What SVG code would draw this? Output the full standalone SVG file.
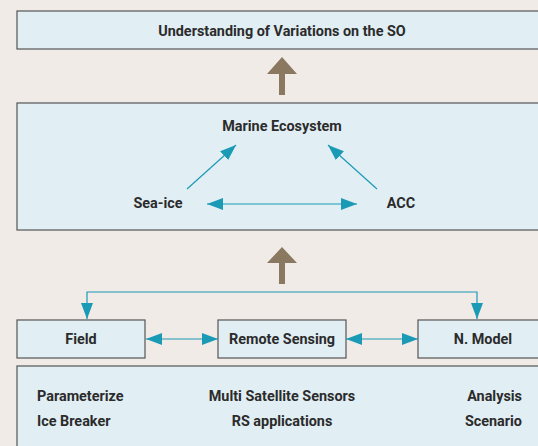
<svg xmlns="http://www.w3.org/2000/svg" width="538" height="446" viewBox="0 0 538 446">
<defs>
<style>
.bg{fill:#f0ebe7}
.box{fill:#e1eef4;stroke:#555;stroke-width:1.2}
text{font-family:Roboto,"Liberation Sans",sans-serif;font-weight:bold;font-size:14.4px;fill:#2b2b2b}
.c{text-anchor:middle}
.r{text-anchor:end}
.ln{stroke:#1b9ab6;stroke-width:1.2;fill:none}
.brown{fill:#8a7960}
</style>
<marker id="ah" viewBox="0 0 16 12" refX="16" refY="6" markerWidth="16" markerHeight="12" markerUnits="userSpaceOnUse" orient="auto-start-reverse">
<path d="M0,0 L16,6 L0,12 Z" fill="#1b9ab6"/>
</marker>
</defs>
<rect class="bg" width="538" height="446"/>
<g id="top">
<rect class="box" x="17" y="11" width="540" height="38"/>
<text class="c" x="282" y="36">Understanding of Variations on the SO</text>
</g>
<g id="arrows-up">
<path class="brown" d="M267,74 L282,57 L297,74 L285,74 L285,95 L279,95 L279,74 Z"/>
<path class="brown" d="M267,263 L282,247 L297,263 L285,263 L285,284 L279,284 L279,263 Z"/>
</g>
<g id="mid">
<rect class="box" x="17" y="103" width="540" height="127"/>
<text class="c" x="282" y="131">Marine Ecosystem</text>
<text class="c" x="158" y="208">Sea-ice</text>
<text class="c" x="401" y="208">ACC</text>
</g>
<g id="field">
<rect class="box" x="17" y="320" width="128" height="38"/>
<text class="c" x="81" y="344">Field</text>
</g>
<g id="rs">
<rect class="box" x="218" y="320" width="128" height="38"/>
<text class="c" x="282" y="344">Remote Sensing</text>
</g>
<g id="nmodel">
<rect class="box" x="418" y="320" width="150" height="38"/>
<text class="c" x="483" y="344">N. Model</text>
</g>
<g id="bottom">
<rect class="box" x="17" y="366" width="540" height="100"/>
<text x="37" y="401">Parameterize</text>
<text x="37" y="426">Ice Breaker</text>
<text class="c" x="282" y="401">Multi Satellite Sensors</text>
<text class="c" x="282" y="426">RS applications</text>
<text class="r" x="522" y="401">Analysis</text>
<text class="r" x="522" y="426">Scenario</text>
</g>
<g id="connectors">
<path class="ln" d="M187,189 L236,145" marker-end="url(#ah)"/>
<path class="ln" d="M377,189 L328,145" marker-end="url(#ah)"/>
<path class="ln" d="M207,204 L357,204" marker-start="url(#ah)" marker-end="url(#ah)"/>
<path class="ln" d="M146,339 L218,339" marker-start="url(#ah)" marker-end="url(#ah)"/>
<path class="ln" d="M346,339 L418,339" marker-start="url(#ah)" marker-end="url(#ah)"/>
<path class="ln" d="M87,319 L87,292 L477,292 L477,319" marker-start="url(#ah)" marker-end="url(#ah)"/>
</g>
</svg>
